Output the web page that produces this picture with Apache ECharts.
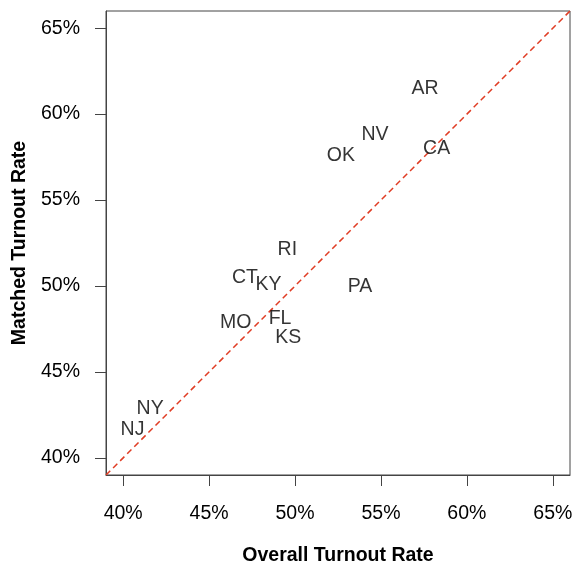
<!DOCTYPE html>
<html>
<head>
<meta charset="utf-8">
<script src="https://cdn.jsdelivr.net/npm/echarts@6/dist/echarts.min.js"></script>
<style>html,body{margin:0;padding:0;background:#fff}#c{width:572px;height:570px}</style>
</head>
<body>
<div id="c"></div>
<script>
const states = ['AR','NV','OK','CA','RI','CT','KY','PA','MO','FL','KS','NY','NJ'];
const overall = [57.56,54.65,52.67,58.24,49.55,47.09,48.45,53.78,46.55,49.13,49.61,41.57,40.54];
const matched = [61.47,58.80,57.58,58.02,52.11,50.47,50.08,49.98,47.85,48.08,46.98,42.85,41.65];
const tickValues = [40,45,50,55,60,65];
const axisRange = [39,66];

const chart = echarts.init(document.getElementById('c'));
const font = 'Liberation Sans, Arial, Helvetica, sans-serif';
function axisCommon(name, isX){
  return {
    type:'value', min:axisRange[0], max:axisRange[1],
    name:name, nameLocation:'middle',
    nameGap: isX ? 71 : 74,
    nameTextStyle:{fontFamily:font,fontWeight:'bold',fontSize:19.5,color:'#000'},
    axisLine:{show:true,lineStyle:{color:'#444',width:1}},
    axisTick:{show:true,length:11,inside:false,customValues:tickValues,lineStyle:{color:'#444'}},
    axisLabel:{show:true,customValues:tickValues,margin:isX?29:26,fontFamily:font,fontSize:19.5,color:'#000',formatter:v=>v+'%'},
    splitLine:{show:false}
  };
}
chart.setOption({
  animation:false,
  grid:{left:106,right:2,top:11,bottom:95,containLabel:false,outerBoundsMode:'none',show:true,borderColor:'#444',borderWidth:1,backgroundColor:'transparent'},
  xAxis:axisCommon('Overall Turnout Rate',true),
  yAxis:axisCommon('Matched Turnout Rate',false),
  series:[
    {type:'line',data:[[axisRange[0],axisRange[0]],[axisRange[1],axisRange[1]]],symbol:'none',
     lineStyle:{color:'#e03c24',width:1.5,type:[6,4]},silent:true,z:1},
    {type:'scatter',symbolSize:1,itemStyle:{color:'rgba(0,0,0,0)'},
     data:states.map((s,i)=>({name:s,value:[overall[i],matched[i]]})),
     label:{show:true,position:'inside',formatter:p=>p.name,fontFamily:font,fontSize:19.5,color:'#000'},z:3}
  ]
});
</script>
</body>
</html>
